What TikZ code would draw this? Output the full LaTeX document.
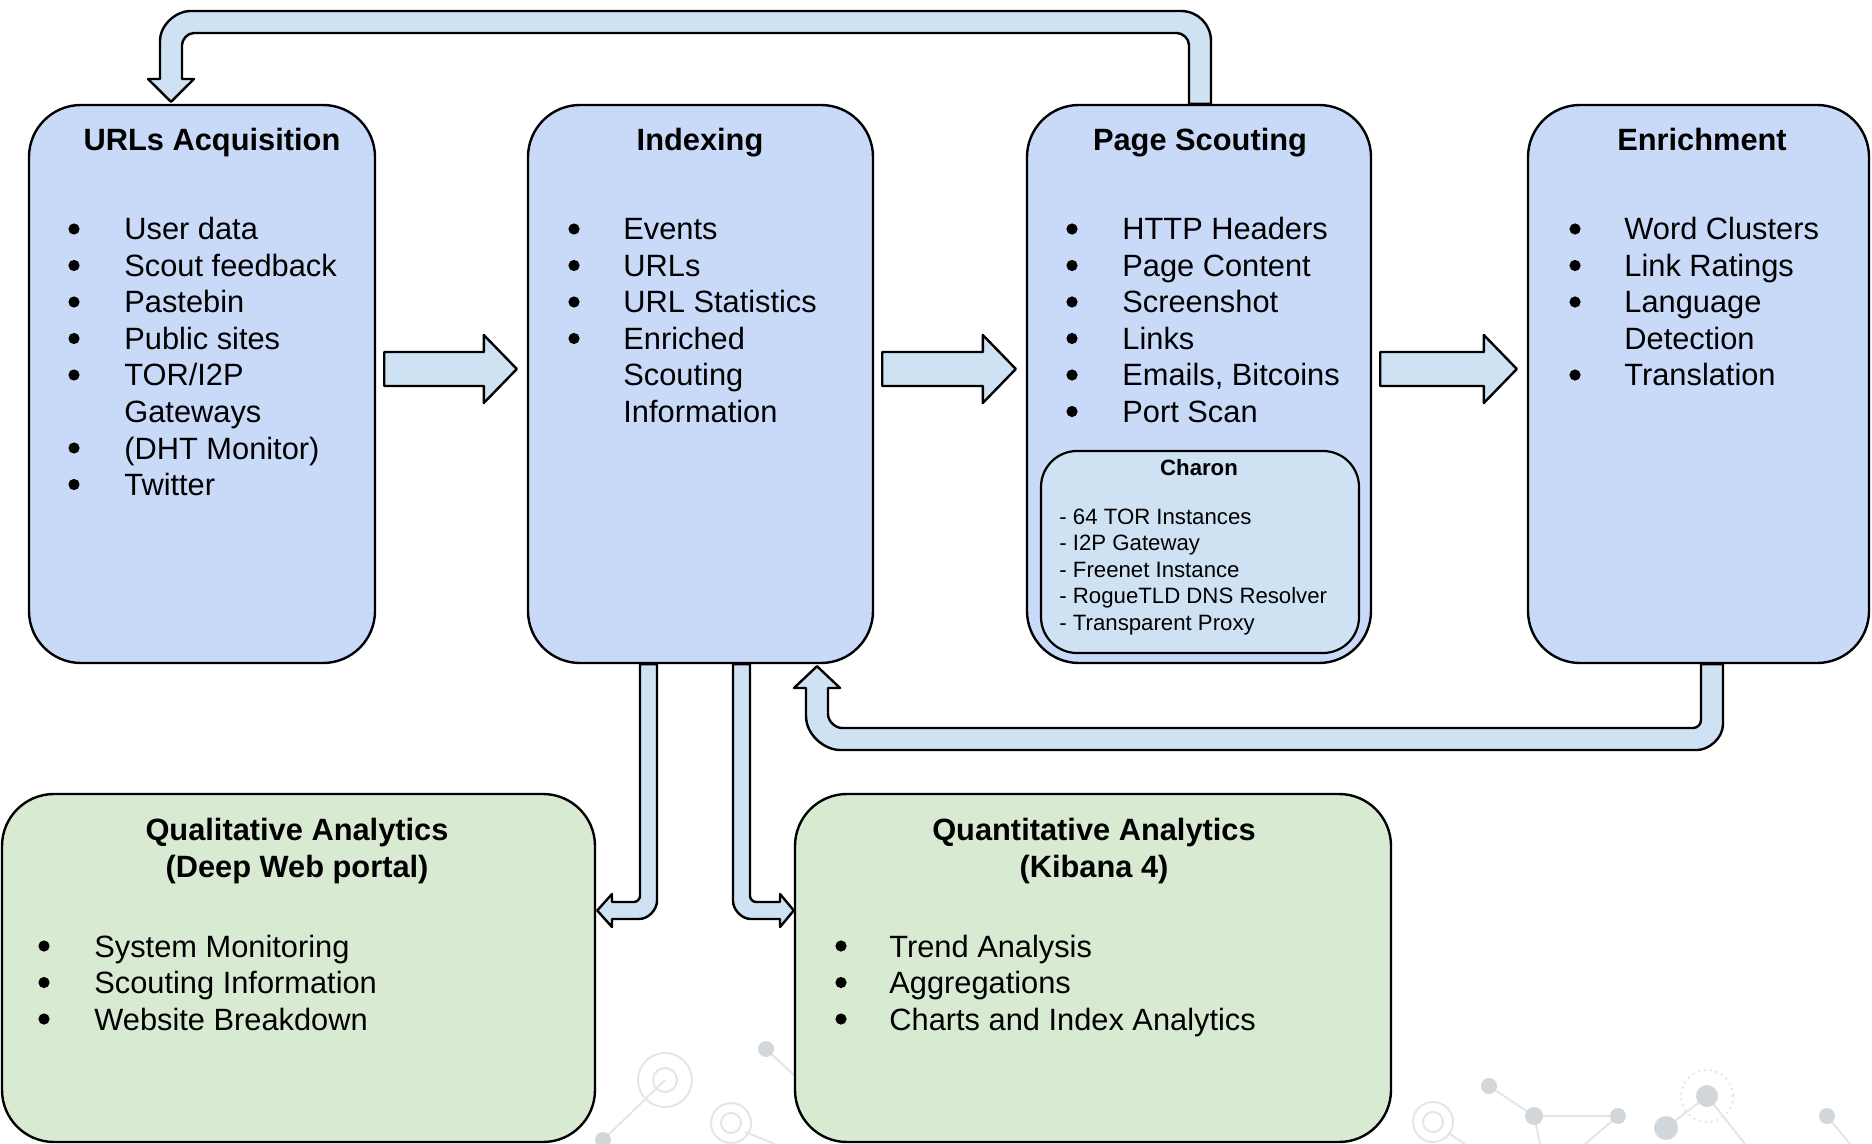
\documentclass[tikz,border=0pt]{standalone}
\usepackage{fontspec}
\setmainfont{Liberation Sans}
\usetikzlibrary{calc}
\definecolor{boxblue}{HTML}{C9DAF8}
\definecolor{arrowblue}{HTML}{CFE2F3}
\definecolor{boxgreen}{HTML}{D9EAD3}
\definecolor{decoline}{HTML}{E3E6E9}
\definecolor{decodot}{HTML}{D2D7DC}
\newcommand\blockarrow[2]{%
  \draw[arr] let \p1=($(#1.east)+(8,-15)$), \p2=($(#2.west)+(-10,-15)$) in
    (\x1,\y1+8.5pt) -- (\x2-16.5pt,\y1+8.5pt) -- (\x2-16.5pt,\y1+17pt) -- (\x2,\y1)
    -- (\x2-16.5pt,\y1-17pt) -- (\x2-16.5pt,\y1-8.5pt) -- (\x1,\y1-8.5pt) -- cycle;}
\begin{document}
\begin{tikzpicture}[x=0.5pt,y=-0.5pt,
  bluebox/.style={draw=black, line width=1.2pt, fill=boxblue, rounded corners=26pt, inner sep=0pt},
  greenbox/.style={draw=black, line width=1.2pt, fill=boxgreen, rounded corners=26pt, inner sep=0pt},
  charonbox/.style={draw=black, line width=1.1pt, fill=arrowblue, rounded corners=18pt, inner sep=0pt},
  ttl/.style={font=\fontsize{15.4}{18}\selectfont\bfseries, anchor=base, inner sep=0pt},
  itm/.style={font=\fontsize{15.4}{18}\selectfont, anchor=base west, inner sep=0pt},
  bul/.style={circle, fill=black, inner sep=0pt, minimum size=5.6pt},
  smallttl/.style={font=\fontsize{11.1}{13}\selectfont\bfseries, anchor=base, inner sep=0pt},
  smallitm/.style={font=\fontsize{11.1}{13}\selectfont, anchor=base west, inner sep=0pt},
  arr/.style={draw=black, line width=1.2pt, fill=arrowblue, line join=round},
  deco/.style={draw=decoline, line width=1pt},
  decodotted/.style={draw=decoline, line width=1pt, dotted},
  ddot/.style={fill=decodot}
]
\useasboundingbox (0,0) rectangle (1872,1144);

% faint background network decoration
\draw[deco] (603,1140) -- (665,1080);
\draw[deco] (665,1080) circle[radius=13.5pt] (665,1080) circle[radius=6pt];
\draw[deco] (731,1123) circle[radius=10pt] (731,1123) circle[radius=5pt];
\draw[deco] (745,1132) -- (775,1144);
\draw[deco] (766,1049) -- (810,1090);
\fill[ddot] (766,1049) circle[radius=4pt];
\fill[ddot] (603,1140) circle[radius=4pt];
\draw[deco] (1433,1122) circle[radius=10pt] (1433,1122) circle[radius=5pt];
\draw[deco] (1448,1133) -- (1465,1144);
\draw[deco] (1489,1086) -- (1534,1116) -- (1618,1116) -- (1585,1144);
\draw[deco] (1534,1116) -- (1540,1144);
\draw[deco] (1666,1128) -- (1707,1096) -- (1745,1144);
\draw[decodotted] (1707,1096) circle[radius=13pt];
\draw[deco] (1827,1116) -- (1850,1144);
\fill[ddot] (1489,1086) circle[radius=4pt] (1534,1116) circle[radius=4.5pt]
  (1618,1116) circle[radius=4pt] (1707,1096) circle[radius=5.5pt]
  (1666,1128) circle[radius=6pt] (1827,1116) circle[radius=4pt];

% main boxes
\node[bluebox, minimum width=173pt, minimum height=279pt] (A) at (202,384) {};
\node[bluebox, minimum width=172.5pt, minimum height=279pt] (B) at (700.5,384) {};
\node[bluebox, minimum width=172pt, minimum height=279pt] (C) at (1199,384) {};
\node[bluebox, minimum width=170.5pt, minimum height=279pt] (D) at (1698.5,384) {};
\node[greenbox, minimum width=296.5pt, minimum height=174pt] (E) at (298.5,968) {};
\node[greenbox, minimum width=298pt, minimum height=174pt] (F) at (1093,968) {};
\node[charonbox, minimum width=159pt, minimum height=101pt] (Ch) at (1200,552) {};

% block arrows
\blockarrow{A}{B}
\blockarrow{B}{C}
\blockarrow{C}{D}

% feedback: Page Scouting -> URLs Acquisition
\draw[arr] ($(C.north)+(12,0)$) -- (1211,41) .. controls (1211,24.4) and (1197.6,11) .. (1181,11)
  -- (190,11) .. controls (176.6,11) and (160,24.4) .. (160,41) -- (160,79) -- (148,79)
  -- ($(A.north)+(-31,-2)$) -- (194,79) -- (182,79)
  -- (182,45) .. controls (182,39.6) and (187.4,33) .. (194,33)
  -- (1177,33) .. controls (1182.4,33) and (1189,38.4) .. (1189,45)
  -- ($(C.north)+(-10,0)$) -- cycle;

% feedback: Enrichment -> Indexing
\draw[arr] ($(D.south)+(24.5,0)$) -- (1723,724) .. controls (1723,738.4) and (1708.4,750) .. (1697,750)
  -- (840,750) .. controls (824.8,750) and (806,735.2) .. (806,716) -- (806,688) -- (794,688)
  -- ($(B.south)+(116.5,2)$) -- (840,688) -- (828,688)
  -- (828,714) .. controls (828,721.7) and (835.7,728) .. (842,728)
  -- (1693,728) .. controls (1697.4,728) and (1701,724.4) .. (1701,720)
  -- ($(D.south)+(2.5,0)$) -- cycle;

% Indexing -> Qualitative
\draw[arr] ($(B.south)+(-43.5,0)$) -- (657,901) .. controls (657,909.1) and (648.9,919) .. (639,919)
  -- (612,919) -- (612,927) -- ($(E.east)+(1,-57.5)$) -- (612,894) -- (612,902)
  -- (634,902) .. controls (637.3,902) and (640,898.7) .. (640,896)
  -- ($(B.south)+(-60.5,0)$) -- cycle;

% Indexing -> Quantitative
\draw[arr] ($(B.south)+(32.5,0)$) -- (733,901) .. controls (733,909.1) and (741.1,919) .. (751,919)
  -- (780,919) -- (780,927) -- ($(F.west)+(0,-57.5)$) -- (780,894) -- (780,902)
  -- (756,902) .. controls (752.7,902) and (750,898.7) .. (750,896)
  -- ($(B.south)+(49.5,0)$) -- cycle;

% titles
\node[ttl] (At) at (212,151) {URLs Acquisition};
\node[ttl] (Bt) at (700,151) {Indexing};
\node[ttl] (Ct) at (1200,151) {Page Scouting};
\node[ttl] (Dt) at (1702,151) {Enrichment};
\node[ttl] (Et1) at (297,840) {Qualitative Analytics};
\node[ttl] (Et2) at (297,877) {(Deep Web portal)};
\node[ttl] (Ft1) at (1094,840) {Quantitative Analytics};
\node[ttl] (Ft2) at (1094,877) {(Kibana 4)};
\node[smallttl] (Cht) at (1199,475) {Charon};

% lists
\foreach \t [count=\i] in {User data, Scout feedback, Pastebin, Public sites, TOR/I2P, Gateways, (DHT Monitor), Twitter}
  \node[itm] (A\i) at (124,{240+36.5*(\i-1)}) {\t};
\foreach \i in {1,2,3,4,5,7,8}
  \node[bul] (Ab\i) at (74,{229+36.5*(\i-1)}) {};

\foreach \t [count=\i] in {Events, URLs, URL Statistics, Enriched, Scouting, Information}
  \node[itm] (B\i) at (623,{240+36.5*(\i-1)}) {\t};
\foreach \i in {1,2,3,4}
  \node[bul] (Bb\i) at (574,{229+36.5*(\i-1)}) {};

\foreach \t [count=\i] in {HTTP Headers, Page Content, Screenshot, Links, {Emails, Bitcoins}, Port Scan}
  \node[itm] (C\i) at (1122,{240+36.5*(\i-1)}) {\t};
\foreach \i in {1,...,6}
  \node[bul] (Cb\i) at (1072,{229+36.5*(\i-1)}) {};

\foreach \t [count=\i] in {Word Clusters, Link Ratings, Language, Detection, Translation}
  \node[itm] (D\i) at (1624,{240+36.5*(\i-1)}) {\t};
\foreach \i in {1,2,3,5}
  \node[bul] (Db\i) at (1575,{229+36.5*(\i-1)}) {};

\foreach \t [count=\i] in {System Monitoring, Scouting Information, Website Breakdown}
  \node[itm] (E\i) at (94,{957+36.5*(\i-1)}) {\t};
\foreach \i in {1,2,3}
  \node[bul] (Eb\i) at (44,{946+36.5*(\i-1)}) {};

\foreach \t [count=\i] in {Trend Analysis, Aggregations, Charts and Index Analytics}
  \node[itm] (F\i) at (889,{957+36.5*(\i-1)}) {\t};
\foreach \i in {1,2,3}
  \node[bul] (Fb\i) at (841,{946+36.5*(\i-1)}) {};

\foreach \t [count=\i] in {- 64 TOR Instances, - I2P Gateway, - Freenet Instance, - RogueTLD DNS Resolver, - Transparent Proxy}
  \node[smallitm] (Ch\i) at (1059,{524+26.6*(\i-1)}) {\t};
\end{tikzpicture}
\end{document}
